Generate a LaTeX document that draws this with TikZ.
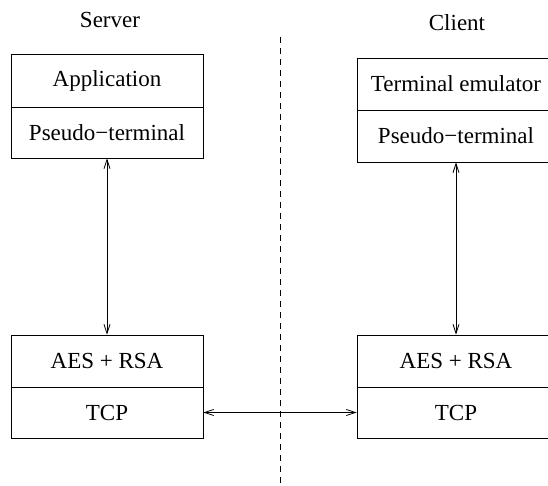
\documentclass[tikz,border=0pt]{standalone}
\usepackage{fontspec}
\setmainfont{Liberation Serif}
\usetikzlibrary{arrows.meta}
\tikzset{
  layer/.style={draw, line width=0.9pt, inner sep=0pt, minimum height=52pt,
                font=\fontsize{23}{27}\selectfont},
  leftlayer/.style={layer, minimum width=192pt},
  rightlayer/.style={layer, minimum width=198pt},
  side/.style={font=\fontsize{23}{27}\selectfont},
  link/.style={line width=0.8pt, {Straight Barb[length=9pt,width=6pt]}-{Straight Barb[length=9pt,width=6pt]}},
  divider/.style={line width=0.8pt, dash pattern=on 6pt off 5pt}
}
\begin{document}
\begin{tikzpicture}[x=1pt,y=-1pt]
  \useasboundingbox (0,0) rectangle (548,486);
  \clip (0,0) rectangle (548,486);

  % side headings
  \node[side] (srv) at (110,20) {Server};
  \node[side] (cli) at (457,23) {Client};

  % separator between the two hosts
  \coordinate (sepTop) at (280,37);
  \coordinate (sepBot) at (280,486);
  \draw[divider] (sepTop) -- (sepBot);

  % server stack
  \node[leftlayer, minimum height=53pt] (app)  at (107,80.5)  {Application};
  \node[leftlayer, minimum height=51pt] (ptyL) at (107,132.5) {Pseudo−terminal};
  \node[leftlayer] (aesL) at (107,361)   {AES + RSA};
  \node[leftlayer, minimum height=51pt] (tcpL) at (107,412.5) {TCP};

  % client stack
  \node[rightlayer] (term) at (456,84)    {Terminal emulator};
  \node[rightlayer] (ptyR) at (456,136)   {Pseudo−terminal};
  \node[rightlayer] (aesR) at (456,361)   {AES + RSA};
  \node[rightlayer, minimum height=51pt] (tcpR) at (456,412.5) {TCP};

  % connections
  \draw[link] (ptyL.south) -- (aesL.north);
  \draw[link] (ptyR.south) -- (aesR.north);
  \draw[link] (tcpL.east) -- (tcpR.west);
\end{tikzpicture}
\end{document}
